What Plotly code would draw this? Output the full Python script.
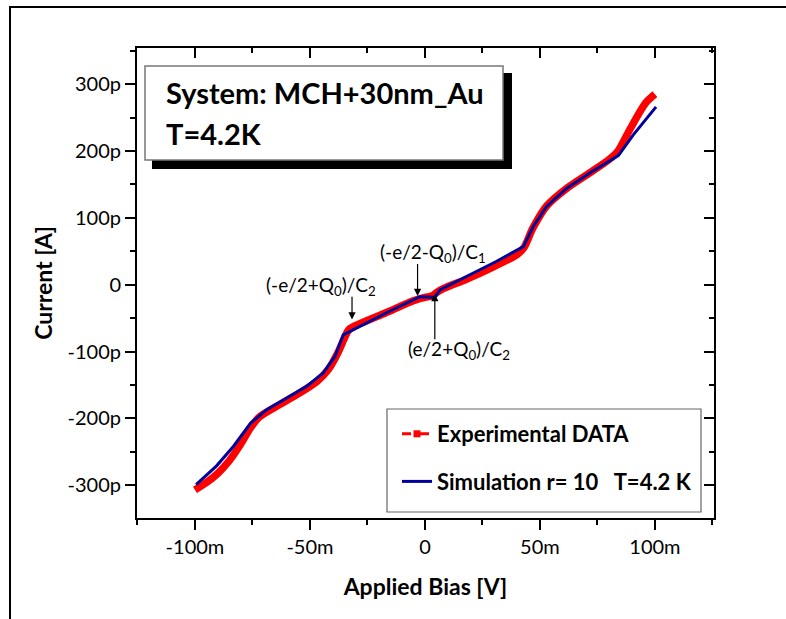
import plotly.graph_objects as go

# ---------------- data (bias in mV, current in pA) ----------------
bias_exp = [-100, -95, -90, -85, -80, -76, -72, -65, -55, -47, -42, -38, -35, -33,
            -28, -17, -5, 0, 3, 5, 8, 18, 30, 40, 43, 47, 53, 62, 72, 80, 84, 88,
            92, 96, 100]
cur_exp = [-307, -296, -282, -263, -238, -215, -198, -183, -163, -145, -127, -103,
           -80, -67, -58, -42, -24, -19, -17, -12, -6, 8, 27, 45, 55, 85, 118, 145,
           168, 187, 200, 225, 250, 272, 285]

bias_sim = [-99.5, -90.6, -83.3, -75.8, -68.8, -60.1, -51.4, -44.2, -39.1, -35.5,
            -28.3, -16.7, -2.2, 4.3, 6.5, 18.1, 31.2, 42.8, 47.1, 52.9, 61.6, 71.7,
            84.1, 90.6, 100.5]
cur_sim = [-299, -271, -242, -207, -187, -169, -152, -132, -107, -75, -62, -42, -18,
           -19, -8, 12, 35, 57, 87, 117, 144, 167, 193, 224, 266]

x_tickvals = [-100, -50, 0, 50, 100]
x_ticktext = ["-100m", "-50m", "0", "50m", "100m"]
y_tickvals = [-300, -200, -100, 0, 100, 200, 300]
y_ticktext = ["-300p", "-200p", "-100p", "0", "100p", "200p", "300p"]
x_range = [-125.2, 125.7]
y_range = [-349, 354]

series_names = ["Experimental DATA", "Simulation r= 10   T=4.2 K"]
info_lines = ["System: MCH+30nm_Au", "T=4.2K"]

# markers annotations: (label, text_x, text_y, arrow_x, tail_y, tip_y)
markers = [
    ("(-e/2+Q<sub>0</sub>)/C<sub>2</sub>", -45.2, -1.5, -31.7, -16.0, -52.0),
    ("(-e/2-Q<sub>0</sub>)/C<sub>1</sub>", 3.5, 47.8, -3.2, 33.0, -17.0),
    ("(e/2+Q<sub>0</sub>)/C<sub>2</sub>", 14.8, -97.0, 4.3, -84.0, -14.0),
]

# ---------------- layout geometry ----------------
W, H = 786, 619
L, R, T, B = 137, 714, 48, 518
FONT = "Lato, 'Open Sans', sans-serif"


def px(x):
    return (x - L) / (R - L)


def py(y):
    return (B - y) / (B - T)


fig = go.Figure()

fig.add_trace(go.Scatter(x=bias_exp, y=cur_exp, mode="lines",
                         line=dict(color="#ff0000", width=7.5, shape="spline",
                                   smoothing=0.8),
                         showlegend=False, hoverinfo="skip"))
fig.add_trace(go.Scatter(x=bias_sim, y=cur_sim, mode="lines",
                         line=dict(color="#00009c", width=3), showlegend=False,
                         hoverinfo="skip"))
# legend entries
fig.add_trace(go.Scatter(x=[None], y=[None], mode="lines+markers",
                         name=f"<b>{series_names[0]}</b>",
                         line=dict(color="#ff0000", width=3, dash="dash"),
                         marker=dict(symbol="square", size=7, color="#ff0000"),
                         legendgroup="a"))
fig.add_trace(go.Scatter(x=[None], y=[None], mode="lines",
                         name=f"<b>{series_names[1]}</b>",
                         line=dict(color="#00009c", width=3), legendgroup="b"))
# dummy for mirrored axes
fig.add_trace(go.Scatter(x=[None], y=[None], xaxis="x2", yaxis="y2", showlegend=False))

axis_common = dict(showline=True, linecolor="black", linewidth=2, showgrid=False,
                   zeroline=False, tickcolor="black", tickwidth=2, ticklen=10)

fig.update_layout(
    width=W, height=H,
    margin=dict(l=L, r=W - R, t=T, b=H - B),
    paper_bgcolor="white", plot_bgcolor="white",
    font=dict(family=FONT, color="black"),
    xaxis=dict(range=x_range, tickvals=x_tickvals, ticktext=x_ticktext, ticks="outside",
               tickfont=dict(size=20), minor=dict(dtick=25, ticklen=5, tickwidth=2,
                                                   tickcolor="black", ticks="outside"),
               title=dict(text="<b>Applied Bias [V]</b>", font=dict(size=23), standoff=22),
               **axis_common),
    yaxis=dict(range=y_range, tickvals=y_tickvals, ticktext=y_ticktext, ticks="outside",
               tickfont=dict(size=20), minor=dict(dtick=50, ticklen=5, tickwidth=2,
                                                   tickcolor="black", ticks="outside"),
               title=dict(text="<b>Current [A]</b>", font=dict(size=23), standoff=8),
               **axis_common),
    xaxis2=dict(range=x_range, overlaying="x", side="top", tickvals=x_tickvals,
                showticklabels=False, ticks="inside",
                minor=dict(dtick=25, ticklen=5, tickwidth=2, tickcolor="black",
                           ticks="inside"), **axis_common),
    yaxis2=dict(range=y_range, overlaying="y", side="right", tickvals=y_tickvals,
                showticklabels=False, ticks="inside",
                minor=dict(dtick=50, ticklen=5, tickwidth=2, tickcolor="black",
                           ticks="inside"), **axis_common),
    legend=dict(x=px(397), y=py(413), xanchor="left", yanchor="top",
                bgcolor="rgba(0,0,0,0)", borderwidth=0,
                font=dict(size=22, family=FONT), traceorder="grouped",
                tracegroupgap=16, itemwidth=30),
    showlegend=True,
)

shapes = [
    # outer frame
    dict(type="rect", xref="paper", yref="paper", x0=px(10), y0=py(7), x1=px(800),
         y1=py(640), line=dict(color="black", width=2), fillcolor="rgba(0,0,0,0)"),
    # info box shadow + box
    dict(type="rect", xref="paper", yref="paper", x0=px(152), y0=py(73), x1=px(512),
         y1=py(169), line=dict(width=0), fillcolor="black"),
    dict(type="rect", xref="paper", yref="paper", x0=px(145), y0=py(66), x1=px(503),
         y1=py(160), line=dict(color="#777777", width=1.5), fillcolor="white"),
    # legend frame
    dict(type="rect", xref="paper", yref="paper", x0=px(387), y0=py(409), x1=px(701),
         y1=py(512), line=dict(color="#666666", width=1.2), fillcolor="white"),
]
fig.update_layout(shapes=shapes)

annotations = []
for i, line in enumerate(info_lines):
    annotations.append(dict(xref="paper", yref="paper", x=px(164), y=py(93 + 40 * i),
                            xanchor="left", yanchor="middle", showarrow=False,
                            text=f"<b>{line}</b>", font=dict(size=29, family=FONT)))
for label, tx, ty, axx, tail, tip in markers:
    annotations.append(dict(x=tx, y=ty, xref="x", yref="y", showarrow=False, text=label,
                            font=dict(size=19, family=FONT)))
    annotations.append(dict(x=axx, y=tip, ax=axx, ay=tail, xref="x", yref="y",
                            axref="x", ayref="y", text="", showarrow=True,
                            arrowhead=2, arrowsize=1.2, arrowwidth=1.2,
                            arrowcolor="black"))
fig.update_layout(annotations=annotations)

fig.write_html("out.html")
